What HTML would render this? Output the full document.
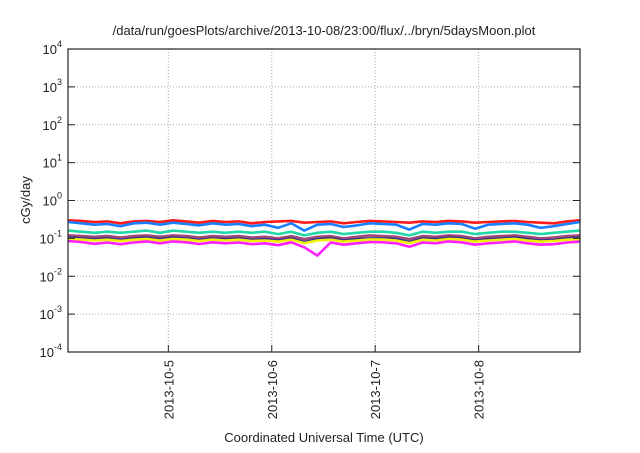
<!DOCTYPE html>
<html><head><meta charset="utf-8">
<style>
body{margin:0;background:#fff;font-family:"Liberation Sans",sans-serif;}
svg text{font-family:"Liberation Sans",sans-serif;fill:#222;}
</style></head>
<body>
<svg id="chart" width="640" height="448" viewBox="0 0 640 448" xmlns="http://www.w3.org/2000/svg">
<rect width="640" height="448" fill="#fff"/>
<text x="324" y="35" font-size="13" text-anchor="middle">/data/run/goesPlots/archive/2013-10-08/23:00/flux/../bryn/5daysMoon.plot</text>
<text x="324" y="442" font-size="13" text-anchor="middle">Coordinated Universal Time (UTC)</text>
<text transform="translate(30,200) rotate(-90)" font-size="13" text-anchor="middle">cGy/day</text>
<g id="grid"></g>
<g id="series"></g>
<rect x="68" y="49" width="512" height="303" fill="none" stroke="#222" stroke-width="1.2"/>
<g id="axes"></g>
</svg>
<script>
const xTicks=[5,6,7,8];
const xTickLabels=["2013-10-5","2013-10-6","2013-10-7","2013-10-8"];
const yTicks=[-4,-3,-2,-1,0,1,2,3,4];
const xStart=4.03, xEnd=8.98;
const seriesColors=["#ff1a1a","#1a7fff","#22d8a8","#a04878","#303090","#f0f000","#ff20ff"];
const seriesNames=["red","blue","teal","purple","navy","yellow","magenta"];
const red=[.30,.29,.27,.28,.25,.28,.29,.27,.30,.28,.26,.29,.27,.28,.25,.27,.28,.29,.26,.27,.28,.25,.27,.29,.28,.27,.26,.28,.27,.29,.28,.26,.27,.28,.29,.27,.26,.25,.28,.30];
const blue=[.27,.25,.23,.24,.21,.25,.26,.23,.26,.24,.22,.25,.23,.24,.21,.23,.19,.25,.16,.23,.24,.20,.22,.25,.24,.23,.17,.24,.23,.25,.24,.18,.23,.24,.25,.23,.19,.21,.24,.27];
const teal=[.16,.15,.14,.15,.14,.15,.16,.14,.16,.15,.14,.15,.14,.15,.14,.15,.13,.15,.12,.14,.15,.13,.14,.15,.15,.14,.12,.15,.14,.15,.15,.13,.14,.15,.15,.14,.13,.14,.15,.16];
const purple=[.12,.115,.11,.115,.105,.115,.12,.11,.12,.115,.105,.115,.11,.115,.105,.11,.10,.115,.095,.11,.115,.10,.11,.12,.115,.11,.095,.115,.11,.12,.115,.10,.11,.115,.12,.11,.10,.105,.115,.12];
const navy=[.105,.10,.095,.10,.09,.10,.105,.095,.105,.10,.09,.10,.095,.10,.09,.095,.088,.10,.08,.095,.10,.088,.095,.10,.10,.095,.08,.10,.095,.105,.10,.088,.095,.10,.105,.095,.088,.09,.10,.105];
const yellow=[.097,.093,.088,.092,.085,.092,.097,.088,.097,.093,.085,.093,.088,.092,.085,.088,.082,.093,.075,.088,.092,.082,.088,.094,.093,.088,.075,.092,.088,.097,.093,.082,.088,.092,.097,.088,.082,.085,.092,.097];
const magenta=[.085,.08,.072,.078,.07,.078,.083,.074,.083,.079,.071,.079,.074,.078,.07,.074,.066,.079,.058,.035,.078,.068,.074,.08,.079,.074,.06,.078,.074,.083,.079,.068,.074,.078,.083,.074,.068,.07,.078,.082];
const allSeries=[red,blue,teal,purple,navy,yellow,magenta];

const L=68,R=580,T=49,B=352;
function xs(d){return L+(d-xStart)/(xEnd-xStart)*(R-L);}
function ys(v){return T+(4-Math.log10(v))/8*(B-T);}
const NS="http://www.w3.org/2000/svg";
const grid=document.getElementById('grid'),axes=document.getElementById('axes'),sg=document.getElementById('series');
function mk(tag,attrs,parent){const e=document.createElementNS(NS,tag);for(const k in attrs)e.setAttribute(k,attrs[k]);parent.appendChild(e);return e;}
yTicks.forEach(p=>{
  const y=ys(Math.pow(10,p));
  if(p>-4&&p<4){const g=mk('line',{x1:L,x2:R,y1:y,y2:y,stroke:'#aaa','stroke-dasharray':'1,2','stroke-width':1},grid);
  
  }
  const t1=mk('line',{x1:L,x2:L+7,y1:y,y2:y,stroke:'#222'},axes);
  
  
  const t2=mk('line',{x1:R-7,x2:R,y1:y,y2:y,stroke:'#222'},axes);
  
  
  const tx=mk('text',{x:L-6,y:y+5,'font-size':13,'text-anchor':'end'},axes);
  
  
  tx.textContent='10';
  const sup=mk('tspan',{dy:-7,'font-size':9},tx);sup.textContent=String(p);
});
xTicks.forEach((d,i)=>{
  const x=xs(d);
  const g=mk('line',{x1:x,x2:x,y1:T,y2:B,stroke:'#aaa','stroke-dasharray':'1,2'},grid);
  
  
  const t=mk('line',{x1:x,x2:x,y1:B-7,y2:B,stroke:'#222'},axes);
  
  
  const tx=mk('text',{transform:`translate(${x+5},${B+8}) rotate(-90)`,'font-size':13,'text-anchor':'end'},axes);
  
  
  tx.textContent=xTickLabels[i];
});
allSeries.forEach((arr,si)=>{
  const n=arr.length;
  const pts=arr.map((v,i)=>xs(xStart+i*(xEnd-xStart)/(n-1)).toFixed(1)+','+ys(v).toFixed(1)).join(' ');
  const pl=mk('polyline',{points:pts,fill:'none',stroke:seriesColors[si],'stroke-width':2.6,'stroke-linejoin':'round'},sg);
  
  
});
</script>
</body></html>
